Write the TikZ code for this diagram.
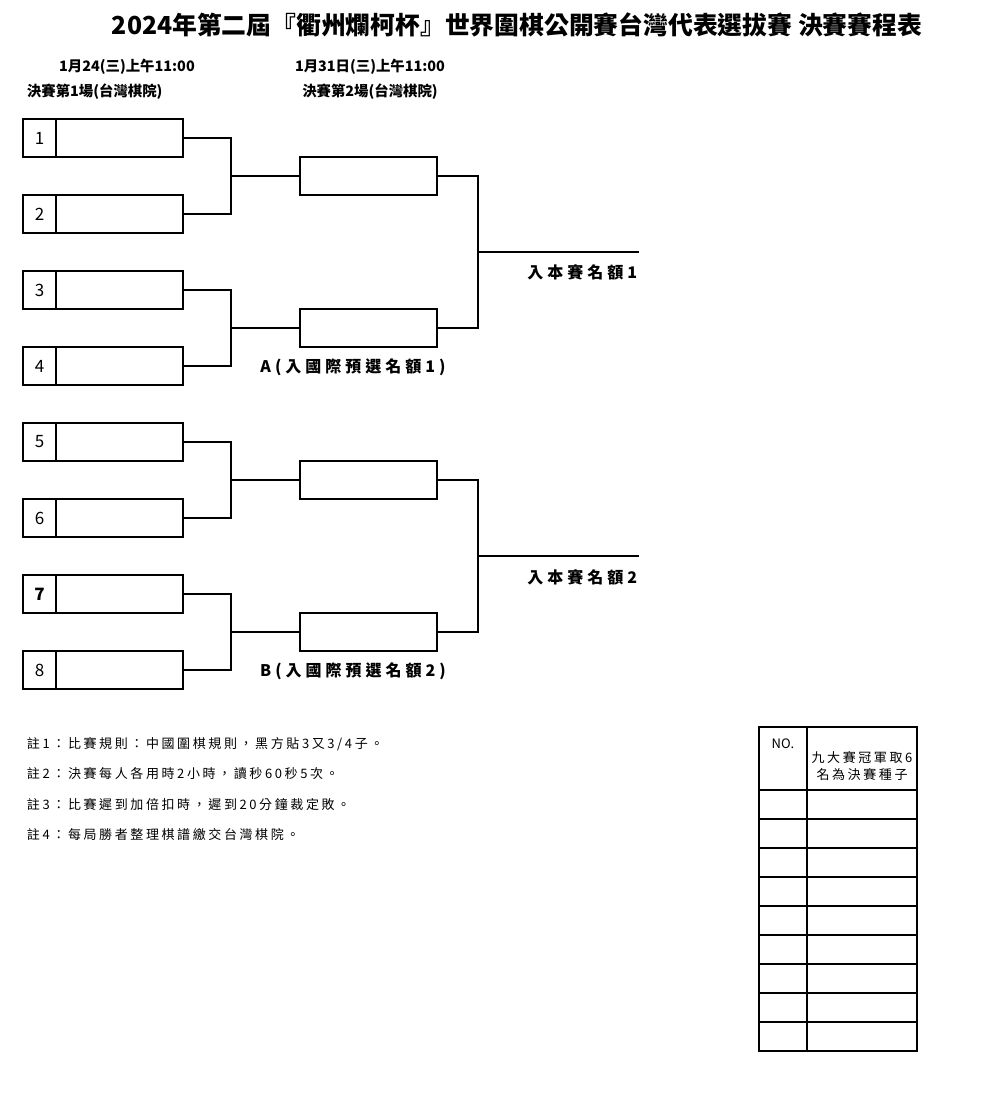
\documentclass[tikz,border=0pt]{standalone}
\usepackage{fontspec}
\setmainfont{Noto Sans CJK TC}
\newfontfamily\spaced[LetterSpace=20]{Noto Sans CJK TC}
\newfontfamily\widespaced[LetterSpace=25]{Noto Sans CJK TC}
\usetikzlibrary{positioning}
\tikzset{
    numbox/.style={
        draw,
        line width=1.3pt, % 邊框加粗
        minimum width=33pt,
        minimum height=38pt,
        font=\fontsize{17}{19}\selectfont
    },
    namebox/.style={
        draw,
        line width=1.3pt,
        minimum width=127pt,
        minimum height=38pt
    },
    winbox/.style={
        draw,
        line width=1.3pt,
        minimum width=137pt,
        minimum height=38pt
    },
    titletext/.style={
        font=\fontsize{24.8}{28}\selectfont\bfseries
    },
    headtext/.style={
        font=\fontsize{14.4}{16}\selectfont\bfseries
    },
    quotatext/.style={
        font=\fontsize{16}{18}\selectfont\widespaced\bfseries
    },
    notetext/.style={
        font=\fontsize{13}{17}\selectfont\spaced
    }
}

\begin{document}
\begin{tikzpicture}[
        x=1pt, y=-1pt,
        line width=1.1pt,
        every node/.style={inner sep=0, outer sep=0}
    ]
    \useasboundingbox (0,0) rectangle (1007,1118);
    % 標題
    \node[titletext] (title) at (517,25) {2024年第二屆『衢州爛柯杯』世界圍棋公開賽台灣代表選拔賽\ 決賽賽程表};
    \node[headtext] (date1) at (127,67) {1月24(三)上午11:00};
    \node[headtext] (date2) at (370,67) {1月31日(三)上午11:00};
    \node[headtext, anchor=west] (round1) at (27,92) {決賽第1場(台灣棋院)};
    \node[headtext] (round2) at (370,92) {決賽第2場(台灣棋院)};

    % 第一輪
    \node[numbox] (n1) at (39.5,138) {1};
    \node[namebox, right=0pt of n1] (p1) {};
    \node[numbox] (n2) at (39.5,214) {2};
    \node[namebox, right=0pt of n2] (p2) {};
    \node[numbox] (n3) at (39.5,290) {3};
    \node[namebox, right=0pt of n3] (p3) {};
    \node[numbox] (n4) at (39.5,366) {4};
    \node[namebox, right=0pt of n4] (p4) {};
    \node[numbox] (n5) at (39.5,442) {5};
    \node[namebox, right=0pt of n5] (p5) {};
    \node[numbox] (n6) at (39.5,518) {6};
    \node[namebox, right=0pt of n6] (p6) {};
    \node[numbox] (n7) at (39.5,594) {\bfseries 7};
    \node[namebox, right=0pt of n7] (p7) {};
    \node[numbox] (n8) at (39.5,670) {8};
    \node[namebox, right=0pt of n8] (p8) {};

    % 第二輪
    \node[winbox] (w12) at (368.5,176) {};
    \node[winbox] (w34) at (368.5,328) {};
    \node[winbox] (w56) at (368.5,480) {};
    \node[winbox] (w78) at (368.5,632) {};

    \coordinate (j12) at (231,176);
    \coordinate (j34) at (231,328);
    \coordinate (j56) at (231,480);
    \coordinate (j78) at (231,632);
    \draw (p1.east) -| (j12) |- (p2.east);
    \draw (j12) -- (w12.west);
    \draw (p3.east) -| (j34) |- (p4.east);
    \draw (j34) -- (w34.west);
    \draw (p5.east) -| (j56) |- (p6.east);
    \draw (j56) -- (w56.west);
    \draw (p7.east) -| (j78) |- (p8.east);
    \draw (j78) -- (w78.west);

    % 出線
    \coordinate (jA) at (478,252);
    \coordinate (q1) at (639,252);
    \coordinate (jB) at (478,556);
    \coordinate (q2) at (639,556);
    \draw (w12.east) -| (jA) |- (w34.east);
    \draw (jA) -- (q1);
    \draw (w56.east) -| (jB) |- (w78.east);
    \draw (jB) -- (q2);

    \node[quotatext, anchor=east] (lab1) at (637,272) {入本賽名額1};
    \node[quotatext, anchor=east] (lab2) at (637,577) {入本賽名額2};
    \node[quotatext] (labA) at (353,367) {A(入國際預選名額1)};
    \node[quotatext] (labB) at (353,671) {B(入國際預選名額2)};

    % 備註
    \node[notetext, anchor=west] (note1) at (27,744) {註1：比賽規則：中國圍棋規則，黑方貼3又3/4子。};
    \node[notetext, anchor=west] (note2) at (27,774) {註2：決賽每人各用時2小時，讀秒60秒5次。};
    \node[notetext, anchor=west] (note3) at (27,805) {註3：比賽遲到加倍扣時，遲到20分鐘裁定敗。};
    \node[notetext, anchor=west] (note4) at (27,835) {註4：每局勝者整理棋譜繳交台灣棋院。};

    % 種子表
    \draw[line width=2pt] (759,727) rectangle (917,1051);
    \draw (807,727) -- (807,1051);
    \foreach \y in {790,819,...,1022}
        \draw (759,\y) -- (917,\y);
    \node[font=\fontsize{13}{17}\selectfont] (no) at (783,744) {NO.};
    \node[notetext, align=center] (seed) at (862,766) {九大賽冠軍取6\\名為決賽種子};
\end{tikzpicture}
\end{document}
